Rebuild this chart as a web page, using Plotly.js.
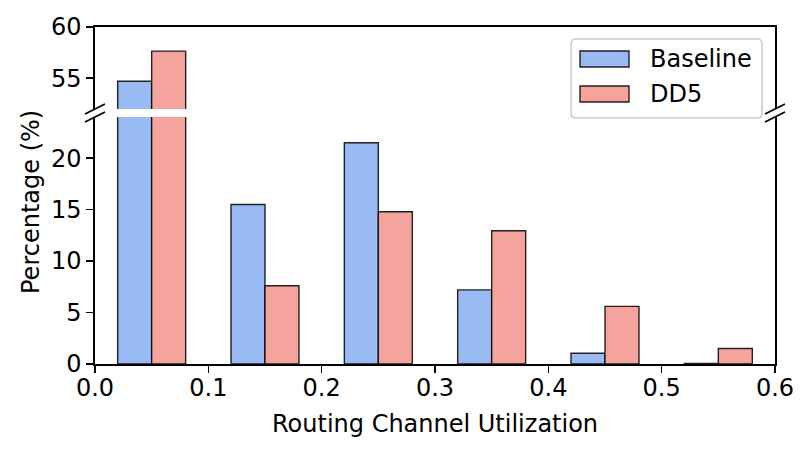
<!DOCTYPE html>
<html>
<head>
<meta charset="utf-8">
<script src="https://cdn.plot.ly/plotly-3.0.1.min.js"></script>
<style>
  body { margin: 0; background: #fff; }
  #chart { width: 811px; height: 455px; }
</style>
</head>
<body>
<div id="chart"></div>
<script>
// bin centres (pair boundary) and the two series
var bins = [0.05, 0.15, 0.25, 0.35, 0.45, 0.55];
var baseline = [54.7, 15.5, 21.5, 7.2, 1.05, 0.05];
var dd5 = [57.65, 7.6, 14.8, 12.95, 5.6, 1.5];
var names = ["Baseline", "DD5"];
var colors = ["#9abaf3", "#f4a39d"];
var xticks = [0, 0.1, 0.2, 0.3, 0.4, 0.5, 0.6];

// plot area in pixels: x 95..775, y 27..364
var L = 95, R = 775, T = 27, B = 364;
var W = R - L, H = B - T;
function px(x) { return (x - L) / W; }
function py(y) { return (B - y) / H; }

var lowTop = py(117);   // top of the lower panel
var upBot = py(109);    // bottom of the upper panel

var edge = { color: "rgba(0,0,0,0.85)", width: 1.4 };

function bars(vals, i, axis) {
  return {
    type: "bar",
    x: bins,
    y: vals,
    name: names[i],
    width: 0.03,
    offset: i === 0 ? -0.03 : 0,
    marker: { color: colors[i], line: edge },
    xaxis: axis === "y" ? "x" : "x2",
    yaxis: axis,
    showlegend: false,
    hoverinfo: "x+y"
  };
}

var data = [
  bars(baseline, 0, "y"), bars(dd5, 1, "y"),
  bars(baseline, 0, "y2"), bars(dd5, 1, "y2")
];

var tickfont = { family: "DejaVu Sans", size: 24, color: "#000" };

var shapes = [];
// break marks on both spines
[0, 1].forEach(function (xa) {
  [upBot, lowTop].forEach(function (ya) {
    shapes.push({
      type: "line", xref: "paper", yref: "paper",
      xsizemode: "pixel", ysizemode: "pixel",
      xanchor: xa, yanchor: ya,
      x0: -10, x1: 10, y0: -5, y1: 5,
      line: { color: "#000", width: 1.6 }
    });
  });
});

// legend box (rounded)
var bx0 = px(571), bx1 = px(762), by0 = py(118), by1 = py(39);
var rx = 5 / W, ry = 5 / H;
shapes.push({
  type: "path", xref: "paper", yref: "paper",
  path: "M " + (bx0 + rx) + "," + by0 +
    " L " + (bx1 - rx) + "," + by0 +
    " Q " + bx1 + "," + by0 + " " + bx1 + "," + (by0 + ry) +
    " L " + bx1 + "," + (by1 - ry) +
    " Q " + bx1 + "," + by1 + " " + (bx1 - rx) + "," + by1 +
    " L " + (bx0 + rx) + "," + by1 +
    " Q " + bx0 + "," + by1 + " " + bx0 + "," + (by1 - ry) +
    " L " + bx0 + "," + (by0 + ry) +
    " Q " + bx0 + "," + by0 + " " + (bx0 + rx) + "," + by0 + " Z",
  fillcolor: "rgba(255,255,255,0.8)",
  line: { color: "#cccccc", width: 1.6 }
});

var annotations = [];
var rowY = [59, 94];
names.forEach(function (n, i) {
  shapes.push({
    type: "rect", xref: "paper", yref: "paper",
    x0: px(580), x1: px(629), y0: py(rowY[i] + 8), y1: py(rowY[i] - 8),
    fillcolor: colors[i], line: edge
  });
  annotations.push({
    xref: "paper", yref: "paper", x: px(648), y: py(rowY[i]),
    xanchor: "left", yanchor: "middle", showarrow: false,
    text: n, font: tickfont
  });
});

annotations.push({
  xref: "paper", yref: "paper", x: px(31), y: py(202),
  xanchor: "center", yanchor: "middle", showarrow: false,
  textangle: -90, text: "Percentage (%)", font: tickfont
});
annotations.push({
  xref: "paper", yref: "paper", x: 0.5, y: py(424),
  xanchor: "center", yanchor: "middle", showarrow: false,
  text: "Routing Channel Utilization", font: tickfont
});

var axisCommon = {
  showline: true, linecolor: "#000", linewidth: 1.6,
  showgrid: false, zeroline: false,
  ticks: "outside", ticklen: 7, tickwidth: 1.6, tickcolor: "#000",
  tickfont: tickfont
};

var layout = {
  width: 811,
  height: 455,
  margin: { l: L, r: 811 - R, t: T, b: 455 - B, pad: 0 },
  paper_bgcolor: "#fff",
  plot_bgcolor: "rgba(0,0,0,0)",
  barmode: "overlay",
  showlegend: false,
  font: tickfont,
  xaxis: Object.assign({}, axisCommon, {
    range: [0, 0.6], tickvals: xticks, tickformat: ".1f",
    anchor: "y", domain: [0, 1], ticklabelstandoff: -5
  }),
  xaxis2: Object.assign({}, axisCommon, {
    range: [0, 0.6], matches: "x", anchor: "y2", side: "top",
    ticks: "", showticklabels: false, domain: [0, 1]
  }),
  yaxis: Object.assign({}, axisCommon, {
    range: [0, 24], tickvals: [0, 5, 10, 15, 20],
    domain: [0, lowTop], anchor: "x", mirror: true
  }),
  yaxis2: Object.assign({}, axisCommon, {
    range: [52, 60], tickvals: [55, 60],
    domain: [upBot, 1], anchor: "x2", mirror: true
  }),
  shapes: shapes,
  annotations: annotations
};

Plotly.newPlot("chart", data, layout, { displayModeBar: false, staticPlot: true });
</script>
</body>
</html>
